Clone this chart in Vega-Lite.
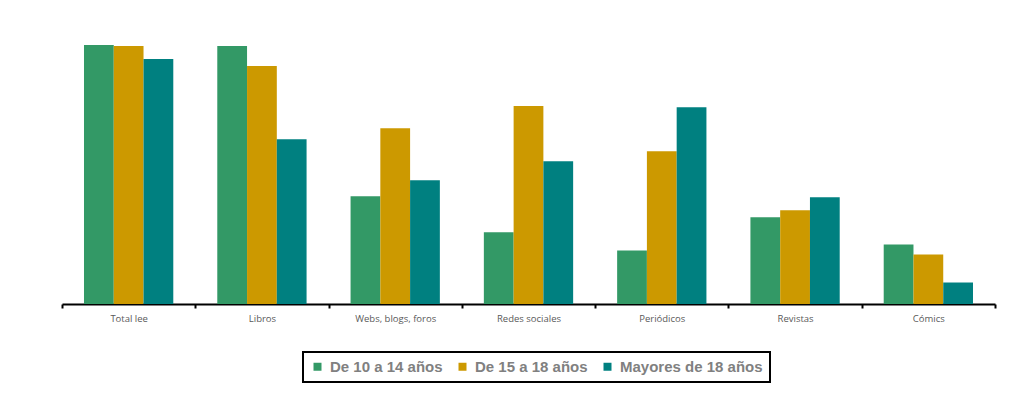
{
  "$schema": "https://vega.github.io/schema/vega-lite/v6.json",
  "width": 933,
  "height": 259,
  "padding": {"left": 61, "top": 45, "right": 36, "bottom": 10},
  "autosize": {"type": "pad"},
  "background": "white",
  "config": {"view": {"stroke": null}},
  "data": {
    "values": [
      {"cat": "Total lee", "grupo": "De 10 a 14 años", "v": 100},
      {"cat": "Total lee", "grupo": "De 15 a 18 años", "v": 99.6},
      {"cat": "Total lee", "grupo": "Mayores de 18 años", "v": 94.6},
      {"cat": "Libros", "grupo": "De 10 a 14 años", "v": 99.6},
      {"cat": "Libros", "grupo": "De 15 a 18 años", "v": 91.9},
      {"cat": "Libros", "grupo": "Mayores de 18 años", "v": 63.6},
      {"cat": "Webs, blogs, foros", "grupo": "De 10 a 14 años", "v": 41.6},
      {"cat": "Webs, blogs, foros", "grupo": "De 15 a 18 años", "v": 67.9},
      {"cat": "Webs, blogs, foros", "grupo": "Mayores de 18 años", "v": 47.8},
      {"cat": "Redes sociales", "grupo": "De 10 a 14 años", "v": 27.7},
      {"cat": "Redes sociales", "grupo": "De 15 a 18 años", "v": 76.4},
      {"cat": "Redes sociales", "grupo": "Mayores de 18 años", "v": 55.1},
      {"cat": "Periódicos", "grupo": "De 10 a 14 años", "v": 20.7},
      {"cat": "Periódicos", "grupo": "De 15 a 18 años", "v": 59.0},
      {"cat": "Periódicos", "grupo": "Mayores de 18 años", "v": 76.0},
      {"cat": "Revistas", "grupo": "De 10 a 14 años", "v": 33.5},
      {"cat": "Revistas", "grupo": "De 15 a 18 años", "v": 36.2},
      {"cat": "Revistas", "grupo": "Mayores de 18 años", "v": 41.2},
      {"cat": "Cómics", "grupo": "De 10 a 14 años", "v": 23.0},
      {"cat": "Cómics", "grupo": "De 15 a 18 años", "v": 19.1},
      {"cat": "Cómics", "grupo": "Mayores de 18 años", "v": 8.3}
    ]
  },
  "mark": {"type": "bar"},
  "encoding": {
    "x": {
      "field": "cat",
      "type": "nominal",
      "sort": null,
      "scale": {"paddingInner": 0, "paddingOuter": 0},
      "axis": {
        "title": null,
        "labelAngle": 0,
        "tickBand": "extent",
        "domainColor": "black",
        "domainWidth": 2,
        "tickColor": "black",
        "tickWidth": 2,
        "tickSize": 4,
        "labelFont": "Open Sans",
        "labelFontSize": 9.5,
        "labelColor": "#595959",
        "labelPadding": 5
      }
    },
    "xOffset": {"field": "grupo", "type": "nominal", "scale": {"paddingInner": 0, "paddingOuter": 0.739}},
    "y": {
      "field": "v",
      "type": "quantitative",
      "scale": {"domain": [0, 100], "nice": false},
      "axis": null
    },
    "color": {
      "field": "grupo",
      "type": "nominal",
      "scale": {
        "domain": ["De 10 a 14 años", "De 15 a 18 años", "Mayores de 18 años"],
        "range": ["#339966", "#CC9900", "#008080"]
      },
      "legend": {
        "title": null,
        "orient": "none",
        "legendX": 241,
        "legendY": 307,
        "direction": "horizontal",
        "symbolType": "square",
        "symbolSize": 64,
        "symbolStrokeWidth": 0,
        "labelFont": "Liberation Sans",
        "labelFontSize": 15,
        "labelFontWeight": "bold",
        "labelColor": "#808080",
        "labelOffset": 5,
        "columnPadding": 12,
        "padding": 7,
        "strokeColor": "black",
        "encode": {"legend": {"update": {"strokeWidth": {"value": 2}}}}
      }
    }
  }
}
